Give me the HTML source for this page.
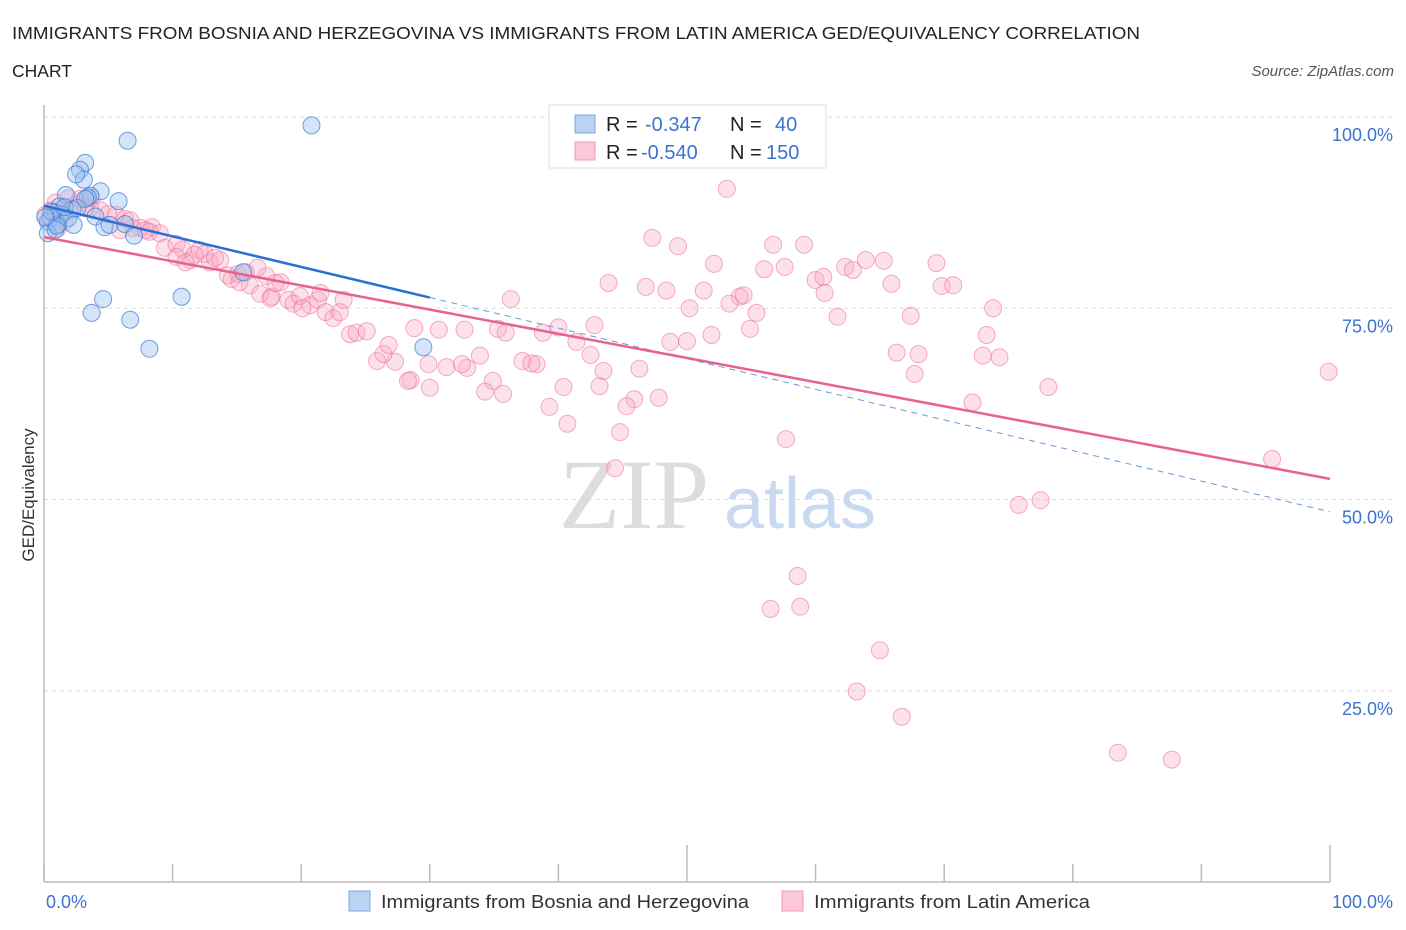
<!DOCTYPE html>
<html><head><meta charset="utf-8"><style>
body{margin:0;background:#fff;font-family:"Liberation Sans",sans-serif;}
svg{display:block}
</style></head><body>
<svg id="chart" width="1406" height="930" xmlns="http://www.w3.org/2000/svg">
<text x="12" y="39" font-size="17.5" fill="#222" textLength="1128" lengthAdjust="spacingAndGlyphs">IMMIGRANTS FROM BOSNIA AND HERZEGOVINA VS IMMIGRANTS FROM LATIN AMERICA GED/EQUIVALENCY CORRELATION</text>
<text x="12" y="77" font-size="17.5" fill="#222">CHART</text>
<text x="1394" y="76" font-size="15" fill="#555" font-style="italic" text-anchor="end">Source: ZipAtlas.com</text>
<g id="grid"></g>
<text x="634" y="528" font-size="100" fill="#ddd" font-family="Liberation Serif,serif" text-anchor="middle">ZIP</text>
<text x="800" y="528" font-size="72" fill="#c9daf0" text-anchor="middle">atlas</text>
<g id="pts"></g>
<g id="trend"></g>
<text transform="translate(34,495) rotate(-90)" font-size="17" fill="#333" text-anchor="middle">GED/Equivalency</text>
<g>
<rect x="549" y="105" width="277" height="63" fill="#fff" stroke="#ddd"/>
<rect x="575" y="115" width="20" height="18" fill="#b9d3f5" stroke="#7aa7e6"/>
<rect x="575" y="142" width="20" height="18" fill="#fbc8d7" stroke="#f09ab5"/>
<text x="606" y="131" font-size="20" fill="#222">R = </text><text x="645" y="131" font-size="20" fill="#3b73d1">-0.347</text>
<text x="730" y="131" font-size="20" fill="#222">N = </text><text x="775" y="131" font-size="20" fill="#3b73d1">40</text>
<text x="606" y="159" font-size="20" fill="#222">R = </text><text x="641" y="159" font-size="20" fill="#3b73d1">-0.540</text>
<text x="730" y="159" font-size="20" fill="#222">N = </text><text x="766" y="159" font-size="20" fill="#3b73d1">150</text>
</g>
<g>
<rect x="349" y="891" width="21" height="20" fill="#b9d3f5" stroke="#7aa7e6"/>
<text x="381" y="908" font-size="18.5" fill="#333" textLength="368" lengthAdjust="spacingAndGlyphs">Immigrants from Bosnia and Herzegovina</text>
<rect x="782" y="891" width="21" height="20" fill="#fbc8d7" stroke="#f09ab5"/>
<text x="814" y="908" font-size="18.5" fill="#333" textLength="276" lengthAdjust="spacingAndGlyphs">Immigrants from Latin America</text>
</g>
</svg>
<script>
const yTicks=[100,75,50,25];
const yTickLabels=["100.0%","75.0%","50.0%","25.0%"];
const xTicks=[0,10,20,30,40,50,60,70,80,90,100];
const xEndLabels=["0.0%","100.0%"];
const blueX=[6.5,20.8,3.2,2.8,3.1,2.5,1.7,4.4,5.8,3.6,3.4,1.2,2.2,0.9,0.5,0.3,1.1,1.4,1.9,2.3,4.0,4.7,5.1,6.3,7.0,0.3,0.9,1.0,0.6,4.6,3.7,10.7,6.7,8.2,29.5,15.5,0.1,1.6,2.6,3.2];
const blueY=[96.9,98.9,94.0,93.1,91.8,92.5,89.8,90.3,89.0,89.7,89.5,88.3,87.9,87.5,86.8,86.3,86.0,87.2,86.8,85.9,87.0,85.6,85.9,86.0,84.5,84.8,85.3,85.8,87.6,76.2,74.4,76.5,73.5,69.7,69.9,79.7,86.9,88.2,88.1,89.3];
const pinkX=[53.1,47.3,49.3,56.7,59.1,52.1,56.0,57.6,62.3,62.9,63.9,65.3,69.4,43.9,46.8,48.4,51.3,54.1,54.4,60.0,60.6,65.9,69.8,70.7,36.3,53.3,50.2,55.4,60.7,61.7,67.4,73.8,73.3,42.8,40.0,54.9,51.9,48.7,50.0,66.3,68.0,73.0,74.3,41.4,42.5,37.2,38.3,33.9,43.5,46.3,67.7,40.4,34.9,32.9,31.3,32.5,28.5,29.9,27.3,25.9,26.4,23.8,24.3,25.1,26.8,28.8,30.7,32.7,35.3,35.9,38.8,37.9,35.7,34.3,30.0,28.3,39.3,43.2,40.7,47.8,45.9,45.3,44.8,44.4,72.2,78.1,99.9,95.5,57.7,75.8,77.5,58.6,56.5,58.8,65.0,63.2,66.7,83.5,87.7,
0.9,1.9,2.8,3.6,4.4,5.6,6.3,7.5,8.4,9.0,9.4,10.3,10.8,11.4,12.1,12.9,13.7,12.5,14.3,15.1,15.7,16.0,16.8,17.3,17.7,18.4,19.0,19.4,19.9,20.7,21.3,21.9,22.5,23.3,23.0,21.5,11.7,13.3,8.2,6.9,5.0,3.7,2.4,1.2,0.5,1.6,0.1,10.3,14.6,16.6,18.0,20.1,1.1,3.2,6.7,7.9,5.9,11.0,15.2,17.6];
const pinkY=[90.6,84.2,83.1,83.3,83.3,80.8,80.1,80.4,80.4,80.0,81.3,81.2,80.9,78.3,77.8,77.3,77.3,76.5,76.7,78.7,79.1,78.2,77.9,78.0,76.2,75.6,75.0,74.4,77.0,73.9,74.0,75.0,71.5,72.8,72.5,72.3,71.5,70.6,70.7,69.2,69.0,68.8,68.6,70.6,68.9,68.1,67.7,68.8,66.8,67.1,66.4,64.7,65.5,67.2,67.3,67.7,65.6,67.7,68.0,68.1,69.0,71.6,71.8,72.0,70.2,72.4,72.2,72.2,72.3,71.8,71.8,67.8,63.8,64.1,64.6,65.5,62.1,64.8,59.9,63.3,63.1,62.2,58.8,54.1,62.7,64.7,66.7,55.3,57.9,49.3,49.9,40.0,35.7,36.0,30.3,24.9,21.6,16.9,16.0,
88.8,89.4,89.3,88.1,87.8,87.2,86.7,85.5,85.6,84.8,82.9,83.4,82.7,81.3,82.6,81.0,81.3,82.1,79.3,79.5,79.7,78.0,76.9,79.2,76.5,78.4,76.1,75.6,76.6,75.4,76.1,74.5,73.7,76.1,74.5,77.0,82.0,81.6,85.0,85.5,87.3,89.4,88.5,87.4,87.8,86.3,87.2,81.7,78.8,80.3,78.3,75.0,85.5,88.1,86.5,85.2,85.2,81.0,78.4,76.3];
const blueTrend=[88.4,48.4];
const pinkTrend=[84.3,52.7];
const NS="http://www.w3.org/2000/svg";
const X0=44,X1=1330,Y0=882,Y100=117;
const sx=v=>X0+(X1-X0)*v/100;
const sy=v=>Y0-(Y0-Y100)*v/100;
function mk(tag,attrs,parent){const e=document.createElementNS(NS,tag);for(const k in attrs)e.setAttribute(k,attrs[k]);parent.appendChild(e);return e;}
const grid=document.getElementById('grid');
yTicks.forEach((t,i)=>{
  const l=mk('line',{x1:X0,x2:1392,y1:sy(t),y2:sy(t),stroke:'#ddd','stroke-dasharray':'4,4'},grid);
  
  
  const tx=mk('text',{x:1393,y:sy(t)+24,'font-size':18,fill:'#3b73d1','text-anchor':'end'},grid);
  tx.textContent=yTickLabels[i];
  
  
});
const ax=mk('line',{x1:X0,x2:X0,y1:105,y2:Y0,stroke:'#bbb','stroke-width':1.5},grid);


const bx=mk('line',{x1:X0,x2:X1,y1:Y0,y2:Y0,stroke:'#bbb','stroke-width':1.5},grid);


xTicks.forEach(t=>{
  const tk=mk('line',{x1:sx(t),x2:sx(t),y1:t===50||t===100?845:864,y2:Y0,stroke:'#bbb','stroke-width':1.5},grid);
  
  
});
[[0,'start',46],[100,'end',1393]].forEach((d,i)=>{
  const tx=mk('text',{x:d[2],y:908,'font-size':18,fill:'#3b73d1','text-anchor':d[1]},grid);
  tx.textContent=xEndLabels[i];
  
  
});
const pts=document.getElementById('pts');
pinkX.forEach((v,i)=>{
  const c=mk('circle',{cx:sx(v),cy:sy(pinkY[i]),r:8.5,fill:'rgba(248,170,195,0.35)',stroke:'rgba(235,110,150,0.55)','stroke-width':1},pts);
  
  
});
blueX.forEach((v,i)=>{
  const c=mk('circle',{cx:sx(v),cy:sy(blueY[i]),r:8.5,fill:'rgba(150,190,240,0.4)',stroke:'rgba(60,120,210,0.7)','stroke-width':1},pts);
  
  
});
const tr=document.getElementById('trend');
const by=x=>blueTrend[0]+(blueTrend[1]-blueTrend[0])*x/100;
const l1=mk('line',{x1:sx(0),y1:sy(by(0)),x2:sx(30),y2:sy(by(30)),stroke:'#2a6fd6','stroke-width':2.5},tr);


const l2=mk('line',{x1:sx(30),y1:sy(by(30)),x2:sx(100),y2:sy(by(100)),stroke:'#6a98d8','stroke-width':1,'stroke-dasharray':'6,5'},tr);


const l3=mk('line',{x1:sx(0),y1:sy(pinkTrend[0]),x2:sx(100),y2:sy(pinkTrend[1]),stroke:'#e8628f','stroke-width':2.5},tr);


</script>
</body></html>
